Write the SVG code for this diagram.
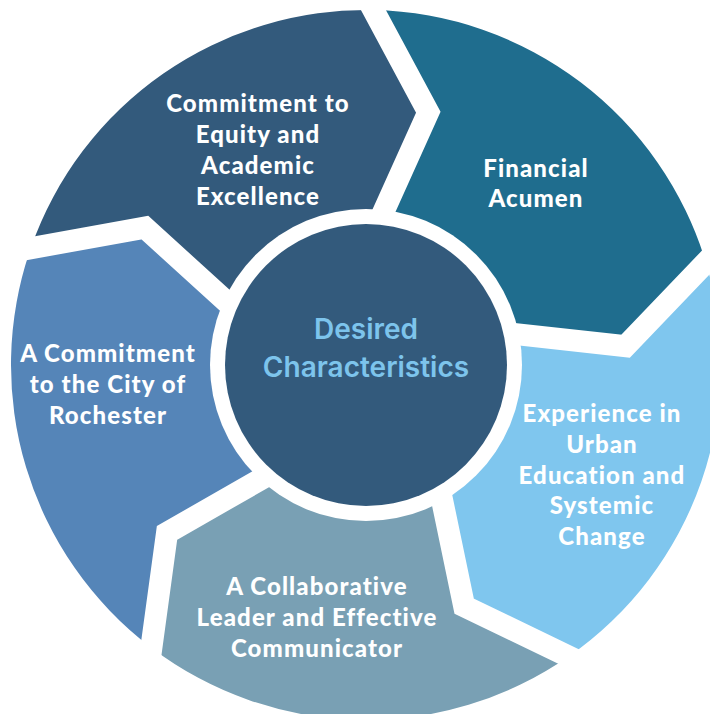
<svg xmlns="http://www.w3.org/2000/svg" width="710" height="714" viewBox="0 0 710 714">
  <defs>
    <!-- one ring segment in local coordinates (centre at origin), spanning -90deg to -18deg,
         notched at its start edge and pointing clockwise at its end edge -->
    <path id="seg" d="M 0,-130 L 57,-254 L 0,-355 A 355 355 0 0 1 337.63,-109.70 L 259.18,-24.28 L 123.64,-40.17 Z"/>
    <!-- chevron-shaped white gap that separates two segments -->
    <polyline id="gap" points="0,-120 57,-254 -11.4,-375.2"/>
    <style>
      .lbl { font-family: "Lato", "Open Sans", "Liberation Sans", sans-serif; font-weight: 900; font-size: 24px; letter-spacing: 1.1px; fill: #ffffff; text-anchor: middle; }
      .hub { font-family: "Inter", "Roboto", "Liberation Sans", sans-serif; font-weight: 600; font-size: 28px; fill: #7dc4ec; text-anchor: middle; }
      .gap { fill: none; stroke: #ffffff; stroke-width: 22; stroke-linejoin: miter; stroke-miterlimit: 10; }
    </style>
  </defs>

  <rect width="710" height="714" fill="#ffffff"/>

  <g id="financial-acumen">
    <use href="#seg" transform="translate(366 365) rotate(1.2)" fill="#1f6d8e"/>
    <text class="lbl" x="536" y="177">Financial</text>
    <text class="lbl" x="536" y="207">Acumen</text>
  </g>

  <g id="urban-education">
    <use href="#seg" transform="translate(366 365) rotate(73.2)" fill="#7fc6ee"/>
    <text class="lbl" x="602" y="422">Experience in</text>
    <text class="lbl" x="602" y="453">Urban</text>
    <text class="lbl" x="602" y="484">Education and</text>
    <text class="lbl" x="602" y="514">Systemic</text>
    <text class="lbl" x="602" y="545">Change</text>
  </g>

  <g id="collaborative-leader">
    <use href="#seg" transform="translate(366 365) rotate(145.2)" fill="#79a0b4"/>
    <text class="lbl" x="317" y="595">A Collaborative</text>
    <text class="lbl" x="317" y="626">Leader and Effective</text>
    <text class="lbl" x="317" y="657">Communicator</text>
  </g>

  <g id="city-of-rochester">
    <use href="#seg" transform="translate(366 365) rotate(217.2)" fill="#5585b8"/>
    <text class="lbl" x="108" y="362">A Commitment</text>
    <text class="lbl" x="108" y="393">to the City of</text>
    <text class="lbl" x="108" y="424">Rochester</text>
  </g>

  <g id="equity-excellence">
    <use href="#seg" transform="translate(366 365) rotate(289.2)" fill="#335a7c"/>
    <text class="lbl" x="258" y="112">Commitment to</text>
    <text class="lbl" x="258" y="143">Equity and</text>
    <text class="lbl" x="258" y="174">Academic</text>
    <text class="lbl" x="258" y="205">Excellence</text>
  </g>

  <!-- white chevron gaps between neighbouring segments -->
  <g id="separators" class="gap">
    <use href="#gap" transform="translate(366 365) rotate(1.2)"/>
    <use href="#gap" transform="translate(366 365) rotate(73.2)"/>
    <use href="#gap" transform="translate(366 365) rotate(145.2)"/>
    <use href="#gap" transform="translate(366 365) rotate(217.2)"/>
    <use href="#gap" transform="translate(366 365) rotate(289.2)"/>
  </g>

  <g id="desired-characteristics">
    <circle cx="366" cy="365" r="156" fill="#ffffff"/>
    <circle cx="366" cy="365" r="141" fill="#335a7c"/>
    <text class="hub" x="366" y="339">Desired</text>
    <text class="hub" x="366" y="377">Characteristics</text>
  </g>
</svg>
